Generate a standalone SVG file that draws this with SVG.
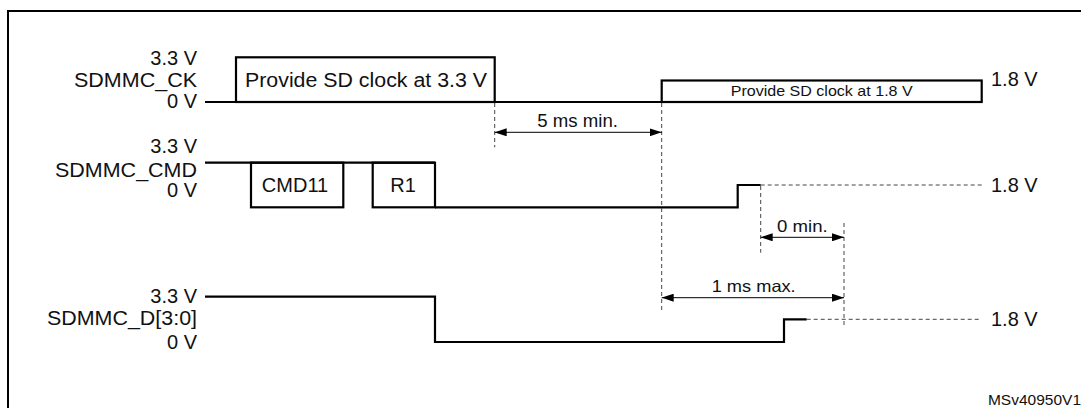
<svg xmlns="http://www.w3.org/2000/svg" width="1081" height="408" viewBox="0 0 1081 408">
  <style>
    text { font-family: "Liberation Sans", Arial, sans-serif; fill: #111; }
    .lbl { font-size: 20px; text-anchor: end; }
    .v18 { font-size: 20px; }
    .wave { fill: none; stroke: #000; stroke-width: 2.2; stroke-linejoin: miter; }
    .guide { fill: none; stroke: #444; stroke-width: 1; stroke-dasharray: 4 3; }
    .dim { fill: none; stroke: #000; stroke-width: 1; marker-start: url(#ah); marker-end: url(#ah); }
    .note { font-size: 16.5px; }
  </style>
  <defs>
    <marker id="ah" viewBox="0 0 12 8" refX="12" refY="4" markerWidth="12" markerHeight="8" markerUnits="userSpaceOnUse" orient="auto-start-reverse">
      <path d="M0,0 L12,4 L0,8 z" fill="#000"/>
    </marker>
  </defs>

  <rect width="1081" height="408" fill="#fff"/>
  <path d="M8,420 V11 H1095" fill="none" stroke="#000" stroke-width="2"/>

  <g id="sig-ck">
    <text class="lbl" x="197" y="65">3.3 V</text>
    <text class="lbl" x="197" y="87" textLength="123" lengthAdjust="spacingAndGlyphs">SDMMC_CK</text>
    <text class="lbl" x="197" y="108">0 V</text>
    <path class="wave" d="M205,102 H982"/>
    <rect class="wave" x="236" y="57.3" width="258.7" height="44.7"/>
    <text x="245" y="87" font-size="20" textLength="242" lengthAdjust="spacingAndGlyphs">Provide SD clock at 3.3 V</text>
    <rect class="wave" x="661.7" y="80.5" width="320" height="21.5"/>
    <text x="730.7" y="95.7" font-size="15" textLength="182" lengthAdjust="spacingAndGlyphs">Provide SD clock at 1.8 V</text>
    <text class="v18" x="991" y="86">1.8 V</text>
  </g>

  <g id="sig-cmd">
    <text class="lbl" x="197" y="153">3.3 V</text>
    <text class="lbl" x="197" y="177" textLength="142" lengthAdjust="spacingAndGlyphs">SDMMC_CMD</text>
    <text class="lbl" x="197" y="197">0 V</text>
    <path class="wave" d="M205,162.7 H435"/>
    <rect class="wave" x="251" y="162.7" width="92.3" height="44.6"/>
    <text x="295" y="191.7" font-size="20" text-anchor="middle">CMD11</text>
    <rect class="wave" x="372.7" y="162.7" width="62.3" height="44.6"/>
    <text x="403" y="191.7" font-size="20" text-anchor="middle">R1</text>
    <path class="wave" d="M435,207.3 H737.7 V185 H760.7"/>
    <text class="v18" x="991" y="191.7">1.8 V</text>
  </g>

  <g id="sig-d">
    <text class="lbl" x="197" y="303">3.3 V</text>
    <text class="lbl" x="197" y="325" textLength="150" lengthAdjust="spacingAndGlyphs">SDMMC_D[3:0]</text>
    <text class="lbl" x="197" y="349">0 V</text>
    <path class="wave" d="M205,296.7 H435 V342 H784 V319.3 H806.7"/>
    <text class="v18" x="991" y="326">1.8 V</text>
  </g>

  <g id="connectors">
    <path class="guide" d="M760.7,185 H981.7"/>
    <path class="guide" d="M806.7,319.3 H981.7"/>
    <path class="guide" d="M494.7,103 V147.3"/>
    <path class="guide" d="M661.7,103 V312.7"/>
    <path class="guide" d="M760.7,186 V252.7"/>
    <path class="guide" d="M844,223 V327"/>
    <path class="dim" d="M494.7,132.3 H661.7"/>
    <path class="dim" d="M760.7,237.3 H844"/>
    <path class="dim" d="M661.7,297.7 H844"/>
  </g>

  <g id="timing-labels">
    <text x="537.3" y="127.3" font-size="17.5" textLength="80.7" lengthAdjust="spacingAndGlyphs">5 ms min.</text>
    <text class="note" x="777" y="232.3" textLength="50.7" lengthAdjust="spacingAndGlyphs">0 min.</text>
    <text class="note" x="711.7" y="292.3" textLength="84" lengthAdjust="spacingAndGlyphs">1 ms max.</text>
  </g>

  <text x="1081" y="405" font-size="15.5" text-anchor="end">MSv40950V1</text>
</svg>
